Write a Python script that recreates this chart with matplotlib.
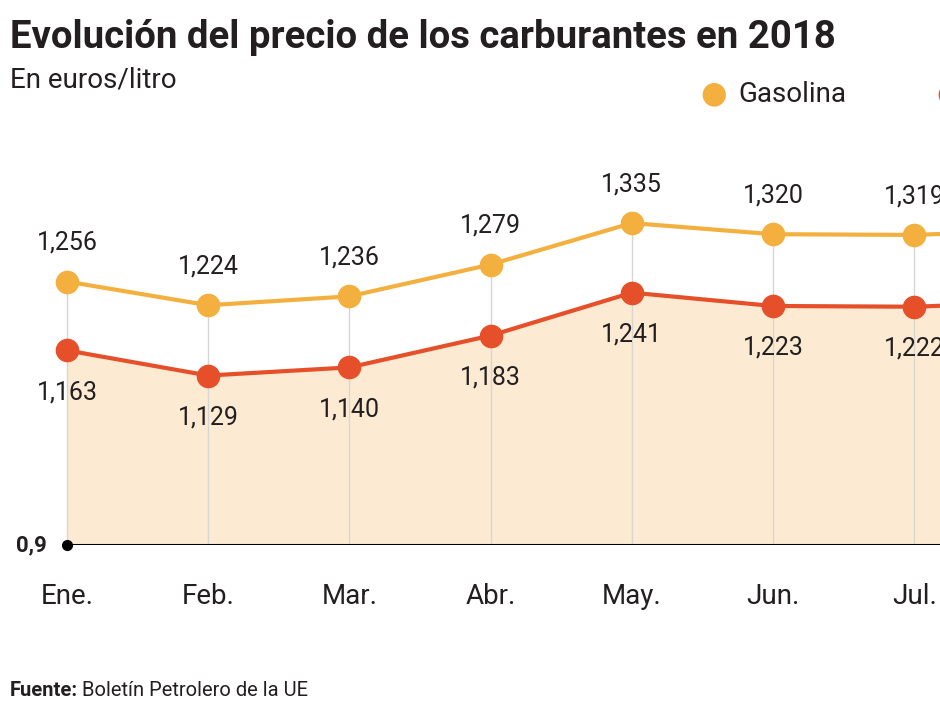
import matplotlib
matplotlib.use("Agg")
import matplotlib.pyplot as plt
from matplotlib import font_manager

months = ["Ene.", "Feb.", "Mar.", "Abr.", "May.", "Jun.", "Jul.", "Ago."]
gasolina = [1.256, 1.224, 1.236, 1.279, 1.335, 1.320, 1.319, 1.326]
gasoleo = [1.163, 1.129, 1.140, 1.183, 1.241, 1.223, 1.222, 1.229]
gasolina_labels = ["1,256", "1,224", "1,236", "1,279", "1,335", "1,320", "1,319", "1,326"]
gasoleo_labels = ["1,163", "1,129", "1,140", "1,183", "1,241", "1,223", "1,222", "1,229"]
series_names = ["Gasolina", "Gasóleo"]
baseline = 0.9
baseline_label = "0,9"

names = {f.name for f in font_manager.fontManager.ttflist}
narrow = "Liberation Sans Narrow" if "Liberation Sans Narrow" in names else "Roboto"
FONT = [narrow, "DejaVu Sans"]

C_GASOLINA = "#f4b03e"
C_GASOLEO = "#e5502a"
C_FILL = "#fcebd2"
C_GRID = "#d8d6d2"
C_TEXT = "#231f20"

W, H = 940, 705
fig = plt.figure(figsize=(W / 100, H / 100), dpi=100)
fig.patch.set_facecolor("white")

x0_px = 67.0
step_px = 141.2
y0_px = 160.0  # baseline from bottom
ppu = 740.0
ax_h_px = 420.0
ax = fig.add_axes([0, y0_px / H, 1, ax_h_px / H])
ax.set_xlim(-x0_px / step_px, (W - x0_px) / step_px)
ax.set_ylim(baseline, baseline + ax_h_px / ppu)
ax.axis("off")

xs = list(range(len(months)))

ax.fill_between(xs, [baseline] * len(xs), gasoleo, color=C_FILL, lw=0, zorder=1)
ax.vlines(xs, baseline, gasolina, color=C_GRID, lw=1.0, zorder=2)
ax.plot([0, len(xs)], [baseline, baseline], color="black", lw=2.2, zorder=3,
        solid_capstyle="butt")
ax.plot([0], [baseline], "o", color="black", ms=7, zorder=4, clip_on=False)
ax.text(-0.14, baseline, baseline_label, ha="right", va="center", fontsize=16,
        fontweight="bold", color=C_TEXT, family=FONT)

ax.plot(xs, gasolina, "-o", color=C_GASOLINA, lw=3, ms=16, zorder=5)
ax.plot(xs, gasoleo, "-o", color=C_GASOLEO, lw=3, ms=16, zorder=5)

for x, v, lab in zip(xs, gasolina, gasolina_labels):
    ax.annotate(lab, (x, v), xytext=(0, 28), textcoords="offset points",
                ha="center", va="center", fontsize=18, color=C_TEXT, family=FONT)
for x, v, lab in zip(xs, gasoleo, gasoleo_labels):
    ax.annotate(lab, (x, v), xytext=(0, -30), textcoords="offset points",
                ha="center", va="center", fontsize=18, color=C_TEXT, family=FONT)

for x, m in zip(xs, months):
    ax.annotate(m, (x, baseline), xytext=(0, -37), textcoords="offset points",
                ha="center", va="center", fontsize=20, color=C_TEXT, family=FONT)

# Titles
fig.text(10 / W, 1 - 37 / H, "Evolución del precio de los carburantes en 2018",
         ha="left", va="center", fontsize=27.6, fontweight="bold", color=C_TEXT, family=FONT)
fig.text(10 / W, 1 - 80 / H, "En euros/litro", ha="left", va="center",
         fontsize=20, color=C_TEXT, family=FONT)

# Legend
fig.text(714 / W, 1 - 94 / H, "●", ha="center", va="center", fontsize=22,
         color=C_GASOLINA, family=["DejaVu Sans"])
fig.text(738 / W, 1 - 94 / H, series_names[0], ha="left", va="center",
         fontsize=20, color=C_TEXT, family=FONT)
fig.text(950 / W, 1 - 94 / H, "●", ha="center", va="center", fontsize=22,
         color=C_GASOLEO, family=["DejaVu Sans"])
fig.text(974 / W, 1 - 94 / H, series_names[1], ha="left", va="center",
         fontsize=20, color=C_TEXT, family=FONT)

# Source
t = fig.text(10 / W, 1 - 690 / H, "Fuente:", ha="left", va="center", fontsize=14.5,
             fontweight="bold", color=C_TEXT, family=FONT)
fig.canvas.draw()
bb = t.get_window_extent()
fig.text((bb.x1 + 4) / W, 1 - 690 / H, "Boletín Petrolero de la UE", ha="left",
         va="center", fontsize=14.5, color=C_TEXT, family=FONT)

fig.savefig("out.png", dpi=100, facecolor="white")
